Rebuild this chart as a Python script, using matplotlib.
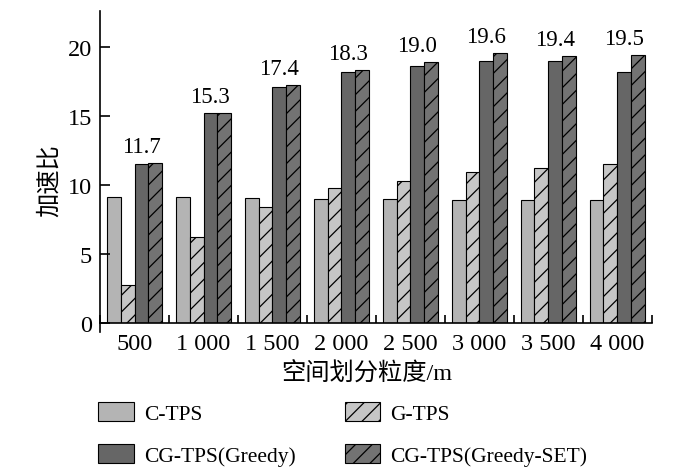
import numpy as np
import matplotlib
matplotlib.use("Agg")
import matplotlib.pyplot as plt
from matplotlib.patches import Patch

plt.rcParams['font.family'] = ['Liberation Serif', 'Noto Sans CJK SC']
plt.rcParams['hatch.linewidth'] = 0.9
plt.rcParams['hatch.color'] = '#1a1a1a'

# 空间划分粒度 / m
groups = ['500', '1 000', '1 500', '2 000', '2 500', '3 000', '3 500', '4 000']
c_tps = [9.1, 9.1, 9.05, 9.0, 9.0, 8.9, 8.9, 8.9]
g_tps = [2.75, 6.2, 8.4, 9.75, 10.3, 10.9, 11.2, 11.5]
cg_greedy = [11.5, 15.2, 17.1, 18.15, 18.6, 19.0, 19.0, 18.2]
cg_greedy_set = [11.6, 15.2, 17.25, 18.3, 18.9, 19.55, 19.35, 19.4]
top_labels = ['11.7', '15.3', '17.4', '18.3', '19.0', '19.6', '19.4', '19.5']

series = [
    ('C-TPS', c_tps, '#b4b4b4', None),
    ('G-TPS', g_tps, '#c6c6c6', '//'),
    ('CG-TPS(Greedy)', cg_greedy, '#666666', None),
    ('CG-TPS(Greedy-SET)', cg_greedy_set, '#737373', '//'),
]

fig = plt.figure(figsize=(7, 4.77), dpi=100)
ax = fig.add_axes([0.143, 0.321, 0.788, 0.654])

x = np.arange(len(groups)) + 0.5
w = 0.2
handles = {}
for i, (name, vals, col, hatch) in enumerate(series):
    ax.bar(x + (i - 1.5) * w, vals, w, color=col, edgecolor='black',
           linewidth=0.8, hatch=hatch)
    handles[name] = Patch(facecolor=col, edgecolor='black', linewidth=0.8,
                          hatch=hatch, label=name)

for xi, v, t in zip(x, cg_greedy_set, top_labels):
    ax.text(xi + 0.1, v + 0.45, t, ha='center', va='bottom', fontsize=16.5)

ax.set_xlim(0, len(groups))
ax.set_ylim(0, 22.6)
ax.set_xticks(np.arange(0, len(groups) + 1))
ax.set_xticklabels([])
ax.set_xticks(x, minor=True)
ax.set_xticklabels(groups, minor=True, fontsize=17.5)
ax.tick_params(axis='x', which='major', direction='in', length=6, width=1.2)
ax.tick_params(axis='x', which='minor', length=0, pad=7)
ax.set_yticks([0, 5, 10, 15, 20])
ax.tick_params(axis='y', direction='in', length=7, width=1.2, labelsize=17.5, pad=6)
for s in ['top', 'right']:
    ax.spines[s].set_visible(False)
for s in ['left', 'bottom']:
    ax.spines[s].set_linewidth(1.2)
# short stub of the y axis below zero, as in the original
ax.plot([0, 0], [0, -0.03], transform=ax.transAxes, color='black',
        lw=1.2, clip_on=False)

ax.set_xlabel('空间划分粒度/m', fontsize=17.5)
ax.xaxis.set_label_coords(0.484, -0.125)
ax.set_ylabel('加速比', fontsize=17.5)
ax.yaxis.set_label_coords(-0.072, 0.46)

# legend filled row by row as in the figure
order = ['C-TPS', 'CG-TPS(Greedy)', 'G-TPS', 'CG-TPS(Greedy-SET)']
fig.legend(handles=[handles[k] for k in order], ncol=2, loc='upper left',
           bbox_to_anchor=(0.113, 0.195), frameon=False, fontsize=15.5,
           handlelength=1.63, handleheight=0.93, handletextpad=0.47,
           labelspacing=0.95, columnspacing=2.3)

fig.savefig('out.png', dpi=100)
